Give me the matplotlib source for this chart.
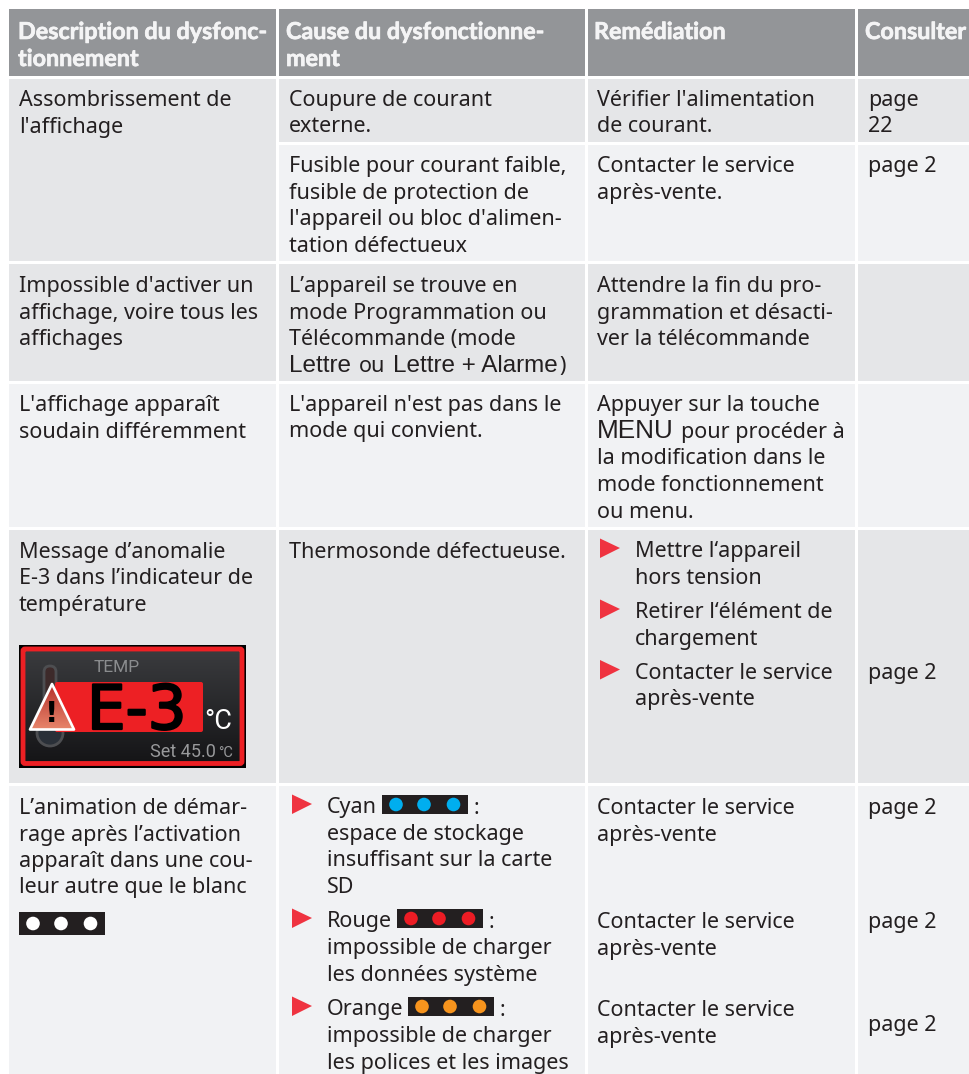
import numpy as np
import matplotlib
matplotlib.use("Agg")
import matplotlib.pyplot as plt
import matplotlib.patheffects as pe
from matplotlib.patches import Rectangle, Polygon, Circle, FancyBboxPatch

# table text
header = [["Description du dysfonc-", "tionnement"],
          ["Cause du dysfonctionne-", "ment"],
          ["Remédiation"],
          ["Consulter"]]

r1_desc = ["Assombrissement de", "l'affichage"]
r1a_cause = ["Coupure de courant", "externe."]
r1a_fix = ["Vérifier l'alimentation", "de courant."]
r1a_page = ["page", "22"]
r1b_cause = ["Fusible pour courant faible,", "fusible de protection de",
             "l'appareil ou bloc d'alimen-", "tation défectueux"]
r1b_fix = ["Contacter le service", "après-vente."]

r2_desc = ["Impossible d'activer un", "affichage, voire tous les", "affichages"]
r2_cause = ["L’appareil se trouve en", "mode Programmation ou", "Télécommande (mode"]
r2_fix = ["Attendre la fin du pro-", "grammation et désacti-", "ver la télécommande"]

r3_desc = ["L'affichage apparaît", "soudain différemment"]
r3_cause = ["L'appareil n'est pas dans le", "mode qui convient."]
r3_fix_top = "Appuyer sur la touche"
r3_fix = ["mode fonctionnement", "ou menu."]

r4_desc = ["Message d’anomalie", "E-3 dans l’indicateur de", "température"]
r4_cause = ["Thermosonde défectueuse."]
r4_steps = [["Mettre l‘appareil", "hors tension"],
            ["Retirer l‘élément de", "chargement"],
            ["Contacter le service", "après-vente"]]

r5_desc = ["L’animation de démar-", "rage après l’activation",
           "apparaît dans une cou-", "leur autre que le blanc"]
r5_names = ["Cyan", "Rouge", "Orange"]
r5_colors = ["#00aeef", "#ed1c24", "#f7941d"]
r5_text = [["espace de stockage", "insuffisant sur la carte", "SD"],
           ["impossible de charger", "les données système"],
           ["impossible de charger", "les polices et les images"]]
r5_fix = ["Contacter le service", "après-vente"]
page2 = "page 2"

# colours
INK = "#231f20"
HEAD = "#939598"
DARK = "#e5e6e8"
LIGHT = "#f1f2f4"
RED = "#ef3340"

BODY = "Noto Sans"
BODY_SIZE = 15.5
STEP = 26.5

fig = plt.figure(figsize=(9.70, 10.74), dpi=100)
ax = fig.add_axes([0, 0, 1, 1])
ax.set_xlim(0, 970)
ax.set_ylim(1074, 0)
ax.axis("off")

COLS = [(9, 276), (279, 585), (588, 855), (858, 970)]


def cell(col, y0, y1, color):
    x0, x1 = COLS[col]
    ax.add_patch(Rectangle((x0, y0), x1 - x0, y1 - y0, fc=color, ec="none", zorder=1))


def block(x, y, lines):
    for i, line in enumerate(lines):
        ax.text(x, y + i * STEP, line, family=BODY, fontsize=BODY_SIZE, color=INK,
                va="baseline", ha="left", zorder=5)


def arrow(x, y):
    # y is the text baseline
    ax.add_patch(Polygon([(x, y - 19), (x + 20, y - 9.5), (x, y + 0.5)], fc=RED, ec="none", zorder=4))


def swatch(x, y, color, w=86, h=19):
    ax.add_patch(Rectangle((x, y), w, h, fc="#231f20", ec="none", zorder=3))
    for dx in (14, 42, 71.5):
        ax.add_patch(Circle((x + dx, y + h / 2), 6.8, fc=color, ec="none", zorder=4))


# backgrounds
for c in range(4):
    cell(c, 9, 76, HEAD)
cell(0, 79, 261, DARK)
for c in (1, 2, 3):
    cell(c, 79, 142, DARK)
    cell(c, 145, 261, LIGHT)
for c in range(4):
    cell(c, 264, 381, DARK)
    cell(c, 384, 527, LIGHT)
    cell(c, 530, 783, DARK)
    cell(c, 786, 1074, LIGHT)

# header
for x, lines in zip((18, 286, 594, 865), header):
    for i, line in enumerate(lines):
        ax.text(x, 39 + i * 27, line, family="Lato", weight="bold", fontsize=16.8,
                color="#f4f4f5", va="baseline", zorder=5,
                path_effects=[pe.withStroke(linewidth=0.5, foreground="#f4f4f5")])

# row 1
block(19, 106, r1_desc)
block(289, 106, r1a_cause)
block(597, 106, r1a_fix)
block(868, 106, r1a_page)
block(289, 172, r1b_cause)
block(597, 172, r1b_fix)
block(868, 172, [page2])

# row 2
block(19, 292, r2_desc)
block(289, 292, r2_cause)
block(597, 292, r2_fix)
for x, run, fam in [(289, "Lettre", "Liberation Sans"), (359, "ou", BODY),
                    (393, "Lettre + Alarme", "Liberation Sans"), (559, ")", BODY)]:
    ax.text(x, 372, run, family=fam, fontsize=17.5 if fam != BODY else BODY_SIZE,
            color=INK, va="baseline", zorder=5)

# row 3
block(19, 411, r3_desc)
block(289, 411, r3_cause)
block(597, 411, [r3_fix_top])
ax.text(597, 438, "MENU", family="Liberation Sans", fontsize=18.8, color=INK, va="baseline", zorder=5)
block(681, 438, ["pour procéder à"])
block(597, 464, ["la modification dans le"])
block(597, 491, r3_fix)

# row 4
block(19, 558, r4_desc)
block(289, 558, r4_cause)
for y, lines in zip((557.5, 618.5, 679), r4_steps):
    arrow(600, y)
    block(635, y, lines)
block(868, 679, [page2])

# E-3 panel
ax.add_patch(Rectangle((19, 645), 227, 122.5, fc="black", ec="none", zorder=2))
panel = FancyBboxPatch((23, 649), 219, 114.5, boxstyle="round,pad=0,rounding_size=2",
                       fc="none", ec="#ed2024", lw=3.5, zorder=4)
ax.add_patch(panel)
grad = np.linspace(0, 1, 64).reshape(-1, 1)
dark_map = matplotlib.colors.LinearSegmentedColormap.from_list("d", ["#3a3b3e", "#151517"])
ax.imshow(grad, extent=(24, 241, 763, 650), cmap=dark_map, aspect="auto", zorder=2.5)
ax.set_xlim(0, 970)
ax.set_ylim(1074, 0)

ax.add_patch(FancyBboxPatch((44, 666), 12, 56, boxstyle="round,pad=0,rounding_size=6",
                            fc="#3d2a2a", ec="#4d4e51", lw=2, zorder=3))
ax.add_patch(Circle((50, 733), 13, fc="#2a3038", ec="#4d4e51", lw=2, zorder=3))
ax.add_patch(FancyBboxPatch((55, 682), 148, 50, boxstyle="round,pad=0,rounding_size=2",
                            fc="#ed2024", ec="none", zorder=3.2))

tri_pts = [(52, 684), (30, 729.5), (74, 729.5)]
tri = Polygon(tri_pts, fc="none", ec="white", lw=1.9, joinstyle="round", zorder=4.5)
ax.add_patch(tri)
tri_fill = Polygon(tri_pts, transform=ax.transData, fc="none", ec="none")
ax.add_patch(tri_fill)
red_map = matplotlib.colors.LinearSegmentedColormap.from_list("r", ["#b5302a", "#e8866c"])
im = ax.imshow(grad, extent=(30, 74, 730, 684), cmap=red_map, aspect="auto", zorder=4.2)
im.set_clip_path(tri_fill)
ax.set_xlim(0, 970)
ax.set_ylim(1074, 0)
ax.text(52, 722, "!", family="DejaVu Sans", weight="bold", fontsize=21, color="black",
        ha="center", va="baseline", zorder=5)

ax.text(87, 729, "E-3", family="DejaVu Sans", fontsize=44, color="black", va="baseline", zorder=5,
        path_effects=[pe.withStroke(linewidth=1.6, foreground="black")])
ax.text(204, 729, "°C", family="Roboto", fontsize=19.5, color="white", va="baseline", zorder=5)
ax.text(94, 672, "TEMP", family="Roboto", fontsize=12.5, color="#8a8c8e", va="baseline", zorder=5)
ax.text(150, 757, "Set 45.0", family="Roboto", fontsize=13, color="#98999b", va="baseline", zorder=5)
ax.text(218, 757, "°C", family="Roboto", fontsize=10.5, color="#98999b", va="baseline", zorder=5)

# row 5
block(19, 814, r5_desc)
swatch(19, 912, "white", h=23)
row5_base = (813.5, 927.5, 1015.5)
swatch_x = (382, 397, 408)
fix_base = (814, 928, 1016)
page_base = (814, 928, 1031)
for i, name in enumerate(r5_names):
    y = row5_base[i]
    arrow(292, y)
    block(327, y, [name])
    swatch(swatch_x[i], y - 18.5, r5_colors[i])
    block(swatch_x[i] + 92, y, [":"])
    block(327, y + STEP, r5_text[i])
    block(597, fix_base[i], r5_fix)
    block(868, page_base[i], [page2])

fig.savefig("out.png", dpi=100)
